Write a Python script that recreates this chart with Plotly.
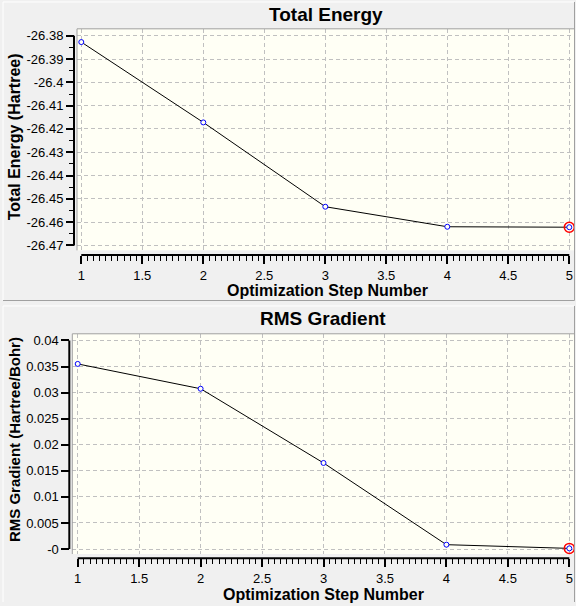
import plotly.graph_objects as go

# ---- data ----
steps = [1, 2, 3, 4, 5]
total_energy = [-26.3827, -26.4172, -26.4534, -26.4620, -26.4622]
rms_gradient = [0.03550, 0.03074, 0.01651, 0.00084, 0.00013]

x_tickvals = [1, 1.5, 2, 2.5, 3, 3.5, 4, 4.5, 5]
x_ticktext = ["1", "1.5", "2", "2.5", "3", "3.5", "4", "4.5", "5"]
e_tickvals = [-26.38, -26.39, -26.40, -26.41, -26.42, -26.43, -26.44, -26.45, -26.46, -26.47]
e_ticktext = ["-26.38", "-26.39", "-26.4", "-26.41", "-26.42", "-26.43", "-26.44", "-26.45", "-26.46", "-26.47"]
g_tickvals = [0.04, 0.035, 0.03, 0.025, 0.02, 0.015, 0.01, 0.005, 0.0]
g_ticktext = ["0.04", "0.035", "0.03", "0.025", "0.02", "0.015", "0.01", "0.005", "-0"]

title_top = "Total Energy"
title_bottom = "RMS Gradient"
ytitle_top = "Total Energy (Hartree)"
ytitle_bottom = "RMS Gradient (Hartree/Bohr)"
xtitle = "Optimization Step Number"

W, H = 576, 606
FONT = "Liberation Sans, Arial, sans-serif"
BG = "#f0f0f0"
PLOT_BG = "#fffff5"
GRID = "#c0c0c0"


def px(x):
    return x / W


def py(y):
    return 1 - y / H


fig = go.Figure()

for xa, ya, yvals in (("x", "y", total_energy), ("x2", "y2", rms_gradient)):
    fig.add_trace(go.Scatter(
        x=steps, y=yvals, xaxis=xa, yaxis=ya, mode="lines+markers",
        line=dict(color="black", width=1),
        marker=dict(symbol="circle", size=5, color=PLOT_BG,
                    line=dict(color="#0000ff", width=1)),
        showlegend=False, hoverinfo="skip", cliponaxis=False))
    fig.add_trace(go.Scatter(
        x=[steps[-1]], y=[yvals[-1]], xaxis=xa, yaxis=ya, mode="markers",
        marker=dict(symbol="circle-open", size=10, color="#ff0000",
                    line=dict(color="#ff0000", width=1.5)),
        showlegend=False, hoverinfo="skip", cliponaxis=False))

tickfont = dict(family=FONT, size=13, color="black")

common_x = dict(
    tickmode="array", tickvals=x_tickvals, ticktext=x_ticktext,
    ticks="outside", ticklen=8, tickwidth=2, tickcolor="black",
    showline=False, zeroline=False,
    showgrid=True, gridcolor=GRID, griddash="4px,3px", gridwidth=1,
    tickfont=tickfont,
    minor=dict(dtick=0.05, tick0=1, ticks="outside", ticklen=5, tickwidth=1,
               tickcolor="black", showgrid=False),
)

fig.update_layout(
    width=W, height=H,
    margin=dict(l=0, r=0, t=0, b=0),
    paper_bgcolor=BG, plot_bgcolor=PLOT_BG,
    xaxis=dict(common_x, domain=[px(77), px(574)], range=[0.9648, 5.0385],
               anchor="free", position=py(255.7)),
    yaxis=dict(domain=[py(251), py(28)], range=[-26.47213, -26.37701],
               anchor="free", position=px(74),
               tickmode="array", tickvals=e_tickvals, ticktext=e_ticktext,
               ticks="outside", ticklen=8, tickwidth=2, tickcolor="black",
               showline=False, zeroline=False,
               showgrid=True, gridcolor=GRID, griddash="4px,3px", gridwidth=1,
               tickfont=tickfont,
               minor=dict(dtick=0.005, tick0=-26.47, ticks="outside", ticklen=5,
                          tickwidth=1, tickcolor="black", showgrid=False)),
    xaxis2=dict(common_x, domain=[px(72.3), px(574)], range=[0.956, 5.038],
                anchor="free", position=py(561)),
    yaxis2=dict(domain=[py(556.7), py(335)], range=[-0.000952, 0.041276],
                anchor="free", position=px(69.3),
                tickmode="array", tickvals=g_tickvals, ticktext=g_ticktext,
                ticks="outside", ticklen=8, tickwidth=2, tickcolor="black",
                showline=False, zeroline=False,
                showgrid=True, gridcolor=GRID, griddash="4px,3px", gridwidth=1,
                tickfont=tickfont),
)

shapes = []
# panel frames (3D style)
for y0, y1 in ((1, 301.5), (307, 605)):
    shapes.append(dict(type="line", xref="paper", yref="paper",
                       x0=px(3), x1=px(574), y0=py(y0), y1=py(y0),
                       line=dict(color="white", width=1)))
    shapes.append(dict(type="line", xref="paper", yref="paper",
                       x0=px(3), x1=px(3), y0=py(y0), y1=py(y1),
                       line=dict(color="white", width=1)))
    shapes.append(dict(type="line", xref="paper", yref="paper",
                       x0=px(574.5), x1=px(574.5), y0=py(y0), y1=py(y1),
                       line=dict(color="#a0a0a0", width=1)))
shapes.append(dict(type="line", xref="paper", yref="paper",
                   x0=px(3), x1=px(574.5), y0=py(301.5), y1=py(301.5),
                   line=dict(color="#a0a0a0", width=1)))

# plot area borders (top + left)
for l, t, b in ((77, 28, 251), (72.3, 335, 556.7)):
    shapes.append(dict(type="line", xref="paper", yref="paper",
                       x0=px(l), x1=px(574), y0=py(t), y1=py(t),
                       line=dict(color="#a0a0a0", width=1)))
    shapes.append(dict(type="line", xref="paper", yref="paper",
                       x0=px(l), x1=px(l), y0=py(t), y1=py(b),
                       line=dict(color="#a0a0a0", width=1)))

# axis lines spanning only the tick range
shapes.append(dict(type="line", xref="paper", yref="y",
                   x0=px(74), x1=px(74), y0=e_tickvals[0], y1=e_tickvals[-1],
                   line=dict(color="black", width=2)))
shapes.append(dict(type="line", xref="x", yref="paper",
                   x0=x_tickvals[0], x1=x_tickvals[-1], y0=py(255.7), y1=py(255.7),
                   line=dict(color="black", width=2)))
shapes.append(dict(type="line", xref="paper", yref="y2",
                   x0=px(69.3), x1=px(69.3), y0=g_tickvals[0], y1=g_tickvals[-1],
                   line=dict(color="black", width=2)))
shapes.append(dict(type="line", xref="x2", yref="paper",
                   x0=x_tickvals[0], x1=x_tickvals[-1], y0=py(561), y1=py(561),
                   line=dict(color="black", width=2)))
fig.update_layout(shapes=shapes)

annotations = [
    dict(text=f"<b>{title_top}</b>", x=px(326), y=py(14),
         font=dict(family=FONT, size=19, color="black")),
    dict(text=f"<b>{title_bottom}</b>", x=px(323), y=py(320),
         font=dict(family=FONT, size=19, color="black")),
    dict(text=f"<b>{xtitle}</b>", x=px(327), y=py(291),
         font=dict(family=FONT, size=16, color="black")),
    dict(text=f"<b>{xtitle}</b>", x=px(323), y=py(597),
         font=dict(family=FONT, size=16, color="black")),
    dict(text=f"<b>{ytitle_top}</b>", x=px(14.5), y=py(136.7), textangle=-90,
         font=dict(family=FONT, size=16, color="black")),
    dict(text=f"<b>{ytitle_bottom}</b>", x=px(14.5), y=py(441.5), textangle=-90,
         font=dict(family=FONT, size=15, color="black")),
]
for a in annotations:
    a.update(xref="paper", yref="paper", showarrow=False,
             xanchor="center", yanchor="middle")
fig.update_layout(annotations=annotations)

fig.write_html(
    "out.html",
    config={"displayModeBar": False, "staticPlot": True},
    post_script="document.body.style.margin='0';document.body.style.overflow='hidden';",
)
